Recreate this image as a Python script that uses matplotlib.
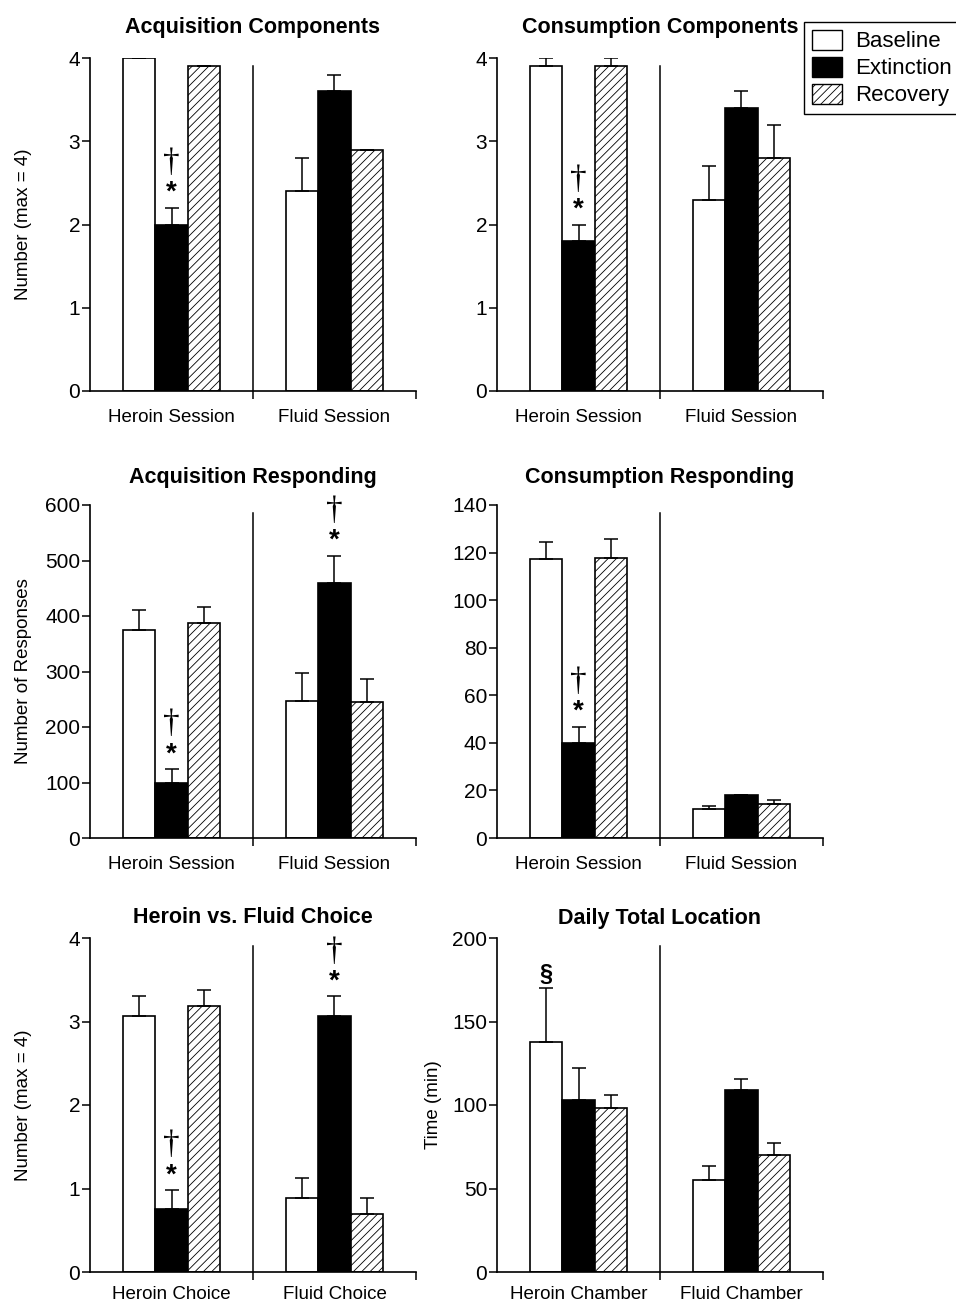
import matplotlib.pyplot as plt
from matplotlib.patches import Patch

plt.rcParams['font.family'] = ['Liberation Sans', 'DejaVu Sans']
plt.rcParams['hatch.linewidth'] = 0.6

conditions = ["Baseline", "Extinction", "Recovery"]
session_groups = ["Heroin Session", "Fluid Session"]
choice_groups = ["Heroin Choice", "Fluid Choice"]
chamber_groups = ["Heroin Chamber", "Fluid Chamber"]

# values per condition: [heroin, fluid]
acq_comp_mean = [[4.0, 2.4], [2.0, 3.6], [3.9, 2.9]]
acq_comp_err = [[0.0, 0.4], [0.2, 0.2], [0.0, 0.0]]

cons_comp_mean = [[3.9, 2.3], [1.8, 3.4], [3.9, 2.8]]
cons_comp_err = [[0.1, 0.4], [0.2, 0.2], [0.1, 0.4]]

acq_resp_mean = [[375, 247], [99, 459], [387, 245]]
acq_resp_err = [[36, 50], [25, 49], [29, 41]]

cons_resp_mean = [[117.3, 12.1], [40.0, 17.9], [117.9, 14.4]]
cons_resp_err = [[7.3, 1.5], [6.7, 0.3], [7.8, 1.4]]

choice_mean = [[3.06, 0.89], [0.75, 3.06], [3.19, 0.69]]
choice_err = [[0.24, 0.24], [0.23, 0.24], [0.19, 0.20]]

location_mean = [[138, 55], [103, 109], [98, 70]]
location_err = [[32, 8.6], [19, 6.8], [8, 7]]

fills = ["white", "black", "white"]
hatches = [None, None, "////"]

W, H = 956, 1304


def panel(rect, title, title_pad, groups, means, errs, ymax, ystep,
          ylabel=None, label_x=-0.178, xpad=13, marks=()):
    x0, y_top, x1, y_bot = rect
    ax = fig.add_axes([x0 / W, 1 - y_bot / H, (x1 - x0) / W, (y_bot - y_top) / H])
    for i in range(3):
        xs = [g + 0.3 + 0.2 * i for g in range(2)]
        ax.bar(xs, means[i], width=0.2, color=fills[i], edgecolor="black",
               hatch=hatches[i], linewidth=1.2, zorder=2)
        ax.errorbar(xs, means[i], yerr=[[0, 0], errs[i]], fmt="none",
                    ecolor="black", elinewidth=1.1, capsize=5, capthick=1.1,
                    zorder=3)
    ax.axvline(1, ymin=0, ymax=0.975, color="black", linewidth=1.1)
    ax.set_xlim(0, 2)
    ax.set_ylim(0, ymax)
    ax.set_yticks(range(0, int(ymax) + 1, ystep))
    ax.set_xticks([0.5, 1.5])
    ax.set_xticklabels(groups, fontsize=13.5)
    ax.set_xticks([1, 2], minor=True)
    ax.tick_params(axis="x", which="major", length=0, pad=xpad)
    ax.tick_params(axis="x", which="minor", length=6, width=1.1)
    ax.tick_params(axis="y", length=6, width=1.1, labelsize=15, pad=1)
    for s in ("top", "right"):
        ax.spines[s].set_visible(False)
    for s in ("left", "bottom"):
        ax.spines[s].set_linewidth(1.2)
    ax.set_title(title, fontsize=15.5, fontweight="bold", pad=title_pad)
    if ylabel:
        ax.set_ylabel(ylabel, fontsize=13.5)
        ax.yaxis.set_label_coords(label_x, 0.5)
    for kind, cond, grp in marks:
        x = grp + 0.3 + 0.2 * cond
        top = means[cond][grp] + errs[cond][grp]
        if kind == "sig":
            ax.text(x, top + 0.045 * ymax, "*", ha="center", va="center",
                    fontsize=20, fontweight="bold")
            ax.text(x, top + 0.135 * ymax, "\u2020", ha="center", va="center",
                    fontsize=24, family=["Liberation Serif", "DejaVu Serif"])
        else:
            ax.text(x, top + 0.005 * ymax, "\u00a7", ha="center", va="bottom",
                    fontsize=17, fontweight="bold")
    return ax


fig = plt.figure(figsize=(W / 100, H / 100), dpi=100)

panel((90, 58, 416, 391), "Acquisition Components", 18, session_groups,
      acq_comp_mean, acq_comp_err, 4, 1, "Number (max = 4)",
      marks=[("sig", 1, 0)])
panel((497, 58, 823, 391), "Consumption Components", 18, session_groups,
      cons_comp_mean, cons_comp_err, 4, 1, marks=[("sig", 1, 0)])
panel((90, 505, 416, 838), "Acquisition Responding", 16, session_groups,
      acq_resp_mean, acq_resp_err, 600, 100, "Number of Responses",
      marks=[("sig", 1, 0), ("sig", 1, 1)])
panel((497, 505, 823, 838), "Consumption Responding", 16, session_groups,
      cons_resp_mean, cons_resp_err, 140, 20, marks=[("sig", 1, 0)])
panel((90, 938, 416, 1272), "Heroin vs. Fluid Choice", 11, choice_groups,
      choice_mean, choice_err, 4, 1, "Number (max = 4)", xpad=10,
      marks=[("sig", 1, 0), ("sig", 1, 1)])
panel((497, 938, 823, 1272), "Daily Total Location", 10, chamber_groups,
      location_mean, location_err, 200, 50, "Time (min)", label_x=-0.169,
      xpad=10, marks=[("sect", 0, 0)])

handles = [Patch(facecolor=fills[i], edgecolor="black", hatch=hatches[i],
                 linewidth=1.0) for i in range(3)]
fig.legend(handles, conditions, loc="upper right",
           bbox_to_anchor=(1.004, 1 - 22 / H), fontsize=16, frameon=True,
           fancybox=False, edgecolor="black", framealpha=1,
           handlelength=1.35, handleheight=1.0, handletextpad=0.6,
           labelspacing=0.2, borderpad=0.35, borderaxespad=0)

fig.savefig("out.png", dpi=100)
